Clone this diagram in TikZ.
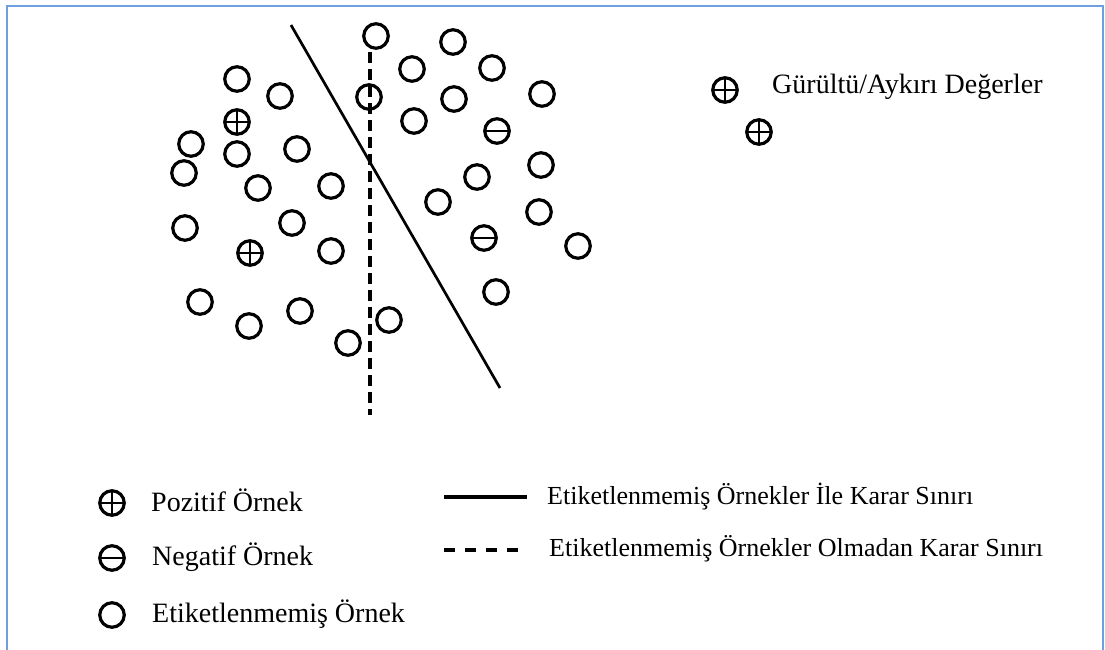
\documentclass[tikz,border=0pt]{standalone}
\usepackage{fontspec}
\setmainfont{Liberation Serif}
\definecolor{framecol}{RGB}{110,160,225}
\tikzset{
	ornek/.style={circle,draw,line width=3.2pt,inner sep=0pt,minimum size=24.5pt},
	pozitif/.style={ornek,path picture={\draw[line width=2.8pt] (path picture bounding box.north)--(path picture bounding box.south) (path picture bounding box.west)--(path picture bounding box.east);}},
	negatif/.style={ornek,path picture={\draw[line width=2.8pt] (path picture bounding box.west)--(path picture bounding box.east);}},
	etiket/.style={anchor=base west,inner sep=0pt,font=\fontsize{28}{32}\selectfont},
	sinir/.style={etiket,font=\fontsize{26}{30}\selectfont}
}
\begin{document}
\begin{tikzpicture}[x=1pt,y=-1pt]
		\useasboundingbox (0,0) rectangle (1105,649);
		\draw[framecol,line width=2pt] (7,660) -- (7,6) -- (1103,6) -- (1103,660);
		\begin{scope}
			% etiketsiz ornekler
			\foreach \x/\y [count=\i] in {376/36,453/42,412/69,492/68,237/79,280/96,369/97,454/99,542/94,414/121,191/144,237/154,297/149,184/173,541/165,258/188,331/186,477/177,438/202,539/212,185/228,292/223,331/251,578/246,496/292,200/302,300/311,249/326,389/320,348/343}
			{
				\node[ornek] (u\i) at (\x,\y) {};
			}
			\node[pozitif] (p1) at (237,122) {};
			\node[pozitif] (p2) at (250,253) {};
			\node[negatif] (n1) at (497,131) {};
			\node[negatif] (n2) at (484,238) {};
			% karar sinirlari
			\coordinate (s1) at (291,25);
			\coordinate (s2) at (500,388);
			\draw[line width=2.7pt] (s1) -- (s2);
			\coordinate (d1) at (370,52);
			\coordinate (d2) at (370,415);
			\draw[line width=3.2pt,dash pattern=on 11pt off 6pt] (d1) -- (d2);
		\end{scope}
		% gurultu
		\node[pozitif] (g1) at (725,90) {};
		\node[pozitif] (g2) at (759,132) {};
		\node[etiket] (gt) at (772,93) {Gürültü/Aykırı Değerler};
		% lejant
		\node[pozitif] (lp) at (112,503) {};
		\node[etiket] (lpt) at (151,511.7) {Pozitif Örnek};
		\node[negatif] (ln) at (112,558) {};
		\node[etiket] (lnt) at (152,565) {Negatif Örnek};
		\node[ornek] (lu) at (112,615) {};
		\node[etiket] (lut) at (152,622) {Etiketlenmemiş Örnek};
		\coordinate (ls1) at (444,497);
		\coordinate (ls2) at (527,497);
		\draw[line width=3.2pt] (ls1) -- (ls2);
		\node[sinir] (lst) at (547,504) {Etiketlenmemiş Örnekler İle Karar Sınırı};
		\coordinate (ld1) at (444,550);
		\coordinate (ld2) at (527,550);
		\draw[line width=3.2pt,dash pattern=on 11pt off 10pt] (ld1) -- (ld2);
		\node[sinir] (ldt) at (549,556) {Etiketlenmemiş Örnekler Olmadan Karar Sınırı};
\end{tikzpicture}
\end{document}
